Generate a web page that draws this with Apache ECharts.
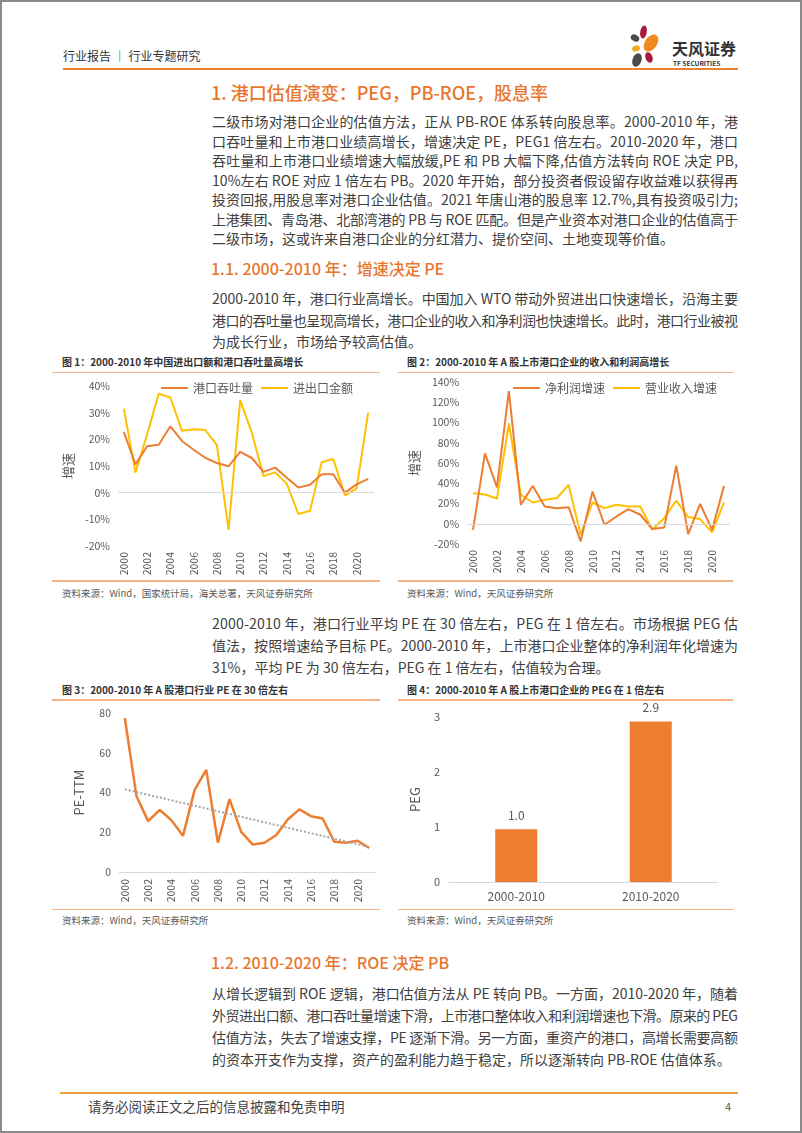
<!DOCTYPE html>
<html><head><meta charset="utf-8">
<script src="https://cdn.jsdelivr.net/npm/echarts@6/dist/echarts.min.js"></script>
<style>
html,body{margin:0;padding:0;background:#fff;}
#page{position:relative;width:802px;height:1133px;overflow:hidden;font-family:"Noto Sans CJK SC","Noto Sans",sans-serif;color:#404040;background:#fff;}
.abs{position:absolute;white-space:nowrap;}
.frame{position:absolute;left:0;top:0;width:802px;height:1133px;box-sizing:border-box;border:2px solid #8a8a8a;pointer-events:none;z-index:10;}
.chart{position:absolute;}
</style></head>
<body><div id="page">
<div class="frame"></div>
<div id="c1" class="chart" style="left:50px;top:373px;width:332px;height:207px;"></div>
<div id="c2" class="chart" style="left:400px;top:373px;width:335px;height:207px;"></div>
<div id="c3" class="chart" style="left:50px;top:701px;width:332px;height:208px;"></div>
<div id="c4" class="chart" style="left:400px;top:701px;width:335px;height:208px;"></div>
</div>
<script>
// ---------- data ----------
const years = ['2000','2001','2002','2003','2004','2005','2006','2007','2008','2009','2010','2011','2012','2013','2014','2015','2016','2017','2018','2019','2020','2021'];
const portThroughput = [22.8,10.6,17.4,18.0,24.9,19.4,16.1,13.1,11.1,9.9,15.3,13.0,7.8,9.4,5.6,1.9,3.0,6.9,6.9,0.0,3.1,5.2];
const tradeValue = [31.5,7.5,21.8,37.1,35.7,23.2,23.8,23.5,17.8,-13.9,34.7,22.5,6.2,7.6,3.4,-8.0,-6.8,11.4,12.6,-1.0,1.5,30.0];
const netProfitGrowth = [-6,69.5,36,131,18.7,37.4,17,15.4,16.4,-17.4,31.8,-1,7.2,14.4,8.9,-5.2,-3.6,57.4,-10.2,19.7,-5.9,37.4];
const revenueGrowth = [30.2,28.9,24.9,99,28.5,21,23.6,25.2,38.4,-10.8,21,15.4,18.7,17,17,-5.9,5.6,23,6.6,4.6,-8.5,21];
const peTTM = [77.5,38.2,25.6,31.2,26.1,18.2,41.3,51.4,14.7,36.7,20.2,13.8,14.7,18.5,26.4,31.5,28.1,26.9,15.2,14.7,15.7,12.1];
const peTrend = [41.6,12.6];
const pegCategories = ['2000-2010','2010-2020'];
const pegValues = [0.96,2.92];
const pctTicks = {c1:[-20,40,10], c2:[-20,140,20], c3:[0,80,20], c4:[0,3,1]};

// ---------- text ----------
const para1 = [
 '二级市场对港口企业的估值方法，正从 PB-ROE 体系转向股息率。2000-2010 年，港',
 '口吞吐量和上市港口业绩高增长，增速决定 PE，PEG1 倍左右。2010-2020 年，港口',
 '吞吐量和上市港口业绩增速大幅放缓,PE 和 PB 大幅下降,估值方法转向 ROE 决定 PB,',
 '10%左右 ROE 对应 1 倍左右 PB。2020 年开始，部分投资者假设留存收益难以获得再',
 '投资回报,用股息率对港口企业估值。2021 年唐山港的股息率 12.7%,具有投资吸引力;',
 '上港集团、青岛港、北部湾港的 PB 与 ROE 匹配。但是产业资本对港口企业的估值高于',
 '二级市场，这或许来自港口企业的分红潜力、提价空间、土地变现等价值。'];
const para2 = [
 '2000-2010 年，港口行业高增长。中国加入 WTO 带动外贸进出口快速增长，沿海主要',
 '港口的吞吐量也呈现高增长，港口企业的收入和净利润也快速增长。此时，港口行业被视',
 '为成长行业，市场给予较高估值。'];
const para3 = [
 '2000-2010 年，港口行业平均 PE 在 30 倍左右，PEG 在 1 倍左右。市场根据 PEG 估',
 '值法，按照增速给予目标 PE。2000-2010 年，上市港口企业整体的净利润年化增速为',
 '31%，平均 PE 为 30 倍左右，PEG 在 1 倍左右，估值较为合理。'];
const para4 = [
 '从增长逻辑到 ROE 逻辑，港口估值方法从 PE 转向 PB。一方面，2010-2020 年，随着',
 '外贸进出口额、港口吞吐量增速下滑，上市港口整体收入和利润增速也下滑。原来的 PEG',
 '估值方法，失去了增速支撑，PE 逐渐下滑。另一方面，重资产的港口，高增长需要高额',
 '的资本开支作为支撑，资产的盈利能力趋于稳定，所以逐渐转向 PB-ROE 估值体系。'];

const page = document.getElementById('page');
function txt(s, x, yc, size, color, weight, lh) {
  lh = lh || Math.round(size*1.5);
  const d = document.createElement('div');
  d.className = 'abs';
  d.style.cssText = `left:${x}px;top:${yc - lh/2}px;height:${lh}px;line-height:${lh}px;font-size:${size}px;color:${color};font-weight:${weight||'normal'};`;
  d.textContent = s;
  page.appendChild(d);
  return d;
}
function para(lines, y0, step) {
  lines.forEach((s, i) => {
    const d = txt(s, 212, y0 + i*step, 14, '#404040', 'normal', 20);
    if (i < lines.length - 1) {
      const w = d.getBoundingClientRect().width;
      const n = [...s].length;
      d.style.letterSpacing = ((526 - w) / (n - 1)) + 'px';
    }
  });
}
function rule(x1, x2, y, color, w) {
  const d = document.createElement('div');
  d.style.cssText = `position:absolute;left:${x1}px;top:${y - w/2}px;width:${x2-x1}px;height:${w}px;background:${color};`;
  page.appendChild(d);
}

// header
txt('行业报告 ｜ 行业专题研究', 63, 56, 12, '#333333');
rule(63, 738, 69, '#E9822F', 2);
const svgNS = 'http://www.w3.org/2000/svg';
const logo = document.createElementNS(svgNS, 'svg');
logo.setAttribute('width', '802'); logo.setAttribute('height', '80');
logo.style.cssText = 'position:absolute;left:0;top:0;';
[[643.5,32,3.3,6.5,10,'#A8193D'],[635,38,4.5,3.3,30,'#4A4A4A'],[651,43,6,9.5,35,'#F08A1C'],[636,48.5,4,3,-20,'#F5A623'],[649,57.5,3.5,5.5,-20,'#A8193D'],[637,60,4.5,7,20,'#4A4A4A']].forEach(p => {
  const e = document.createElementNS(svgNS, 'ellipse');
  e.setAttribute('cx', p[0]); e.setAttribute('cy', p[1]); e.setAttribute('rx', p[2]); e.setAttribute('ry', p[3]);
  e.setAttribute('transform', `rotate(${p[4]} ${p[0]} ${p[1]})`); e.setAttribute('fill', p[5]);
  logo.appendChild(e);
});
page.appendChild(logo);
txt('天风证券', 672, 48, 16, '#333333', 'bold');
txt('TF SECURITIES', 673, 63, 6.5, '#333333', 'bold', 8);

// section text
txt('1. 港口估值演变：PEG，PB-ROE，股息率', 211, 92, 18, '#E8762D', '500', 26);
para(para1, 121, 19.5);
txt('1.1. 2000-2010 年：增速决定 PE', 211, 268, 16, '#E8762D', '500', 24);
para(para2, 298, 21.5);
para(para3, 623, 22);
txt('1.2. 2010-2020 年：ROE 决定 PB', 211, 962, 16, '#E8762D', '500', 24);
para(para4, 993, 22);

// chart frames
txt('图 1：2000-2010 年中国进出口额和港口吞吐量高增长', 62, 361.5, 10, '#333333', 'bold', 14);
txt('图 2：2000-2010 年 A 股上市港口企业的收入和利润高增长', 407, 361.5, 10, '#333333', 'bold', 14);
rule(52, 380, 372.3, '#F4B183', 1.5); rule(398, 733, 372.3, '#F4B183', 1.5);
rule(52, 380, 581, '#F4B183', 1.5); rule(398, 733, 581, '#F4B183', 1.5);
txt('资料来源：Wind，国家统计局，海关总署，天风证券研究所', 62, 593, 9.5, '#595959', 'normal', 13);
txt('资料来源：Wind，天风证券研究所', 407, 593, 9.5, '#595959', 'normal', 13);
txt('图 3：2000-2010 年 A 股港口行业 PE 在 30 倍左右', 62, 689.5, 10, '#333333', 'bold', 14);
txt('图 4：2000-2010 年 A 股上市港口企业的 PEG 在 1 倍左右', 407, 689.5, 10, '#333333', 'bold', 14);
rule(52, 380, 700, '#F4B183', 1.5); rule(398, 733, 700, '#F4B183', 1.5);
rule(52, 380, 909.3, '#F4B183', 1.5); rule(398, 733, 909.3, '#F4B183', 1.5);
txt('资料来源：Wind，天风证券研究所', 62, 920, 9.5, '#595959', 'normal', 13);
txt('资料来源：Wind，天风证券研究所', 407, 920, 9.5, '#595959', 'normal', 13);

// footer
rule(60, 738, 1093, '#E9A23B', 2);
txt('请务必阅读正文之后的信息披露和免责申明', 88, 1106, 13.5, '#404040');
txt('4', 725, 1106, 11, '#595959');

// ---------- charts ----------
const FONT = '"Noto Sans CJK SC","Noto Sans",sans-serif';
const ORANGE = '#ED7D31', YELLOW = '#FFC000', AX = '#595959';
const zeroLine = {silent:true, symbol:['none','none'], label:{show:false}, lineStyle:{color:'#D9D9D9', type:'solid', width:1}, data:[{yAxis:0}]};
function lineOpt(names, datas, colors, grid, yr, legendLeft, nameGap) {
  return {
    animation:false,
    textStyle:{fontFamily:FONT},
    legend:{left:legendLeft, top:4, itemWidth:27, itemHeight:2, itemGap:8, icon:'rect', textStyle:{fontSize:12, color:AX, fontFamily:FONT}, data:names},
    grid:grid,
    xAxis:{type:'category', data:years, boundaryGap:true, axisLine:{show:false}, axisTick:{show:false},
      axisLabel:{rotate:90, interval:1, margin:6, fontSize:10.5, color:AX}},
    yAxis:{type:'value', min:yr[0], max:yr[1], interval:yr[2], name:'增速', nameLocation:'middle', nameGap:nameGap, nameRotate:90,
      nameTextStyle:{fontSize:13, color:AX}, splitLine:{show:false}, axisLine:{show:false}, axisTick:{show:false},
      axisLabel:{formatter:'{value}%', margin:8, fontSize:10.5, color:AX}},
    series:names.map((n, i) => ({name:n, type:'line', data:datas[i], symbol:'none', z: 3 - i,
      lineStyle:{width:2, color:colors[i]}, itemStyle:{color:colors[i]},
      markLine: i === 0 ? zeroLine : undefined}))
  };
}
echarts.init(document.getElementById('c1')).setOption(
  lineOpt(['港口吞吐量','进出口金额'], [portThroughput, tradeValue], [ORANGE, YELLOW],
    {left:68, right:8, top:13, bottom:34}, pctTicks.c1, 106, 25));
echarts.init(document.getElementById('c2')).setOption(
  lineOpt(['净利润增速','营业收入增速'], [netProfitGrowth, revenueGrowth], [ORANGE, YELLOW],
    {left:62, right:5, top:9, bottom:36}, pctTicks.c2, 108, 36));

echarts.init(document.getElementById('c3')).setOption({
  animation:false,
  textStyle:{fontFamily:FONT},
  grid:{left:69, right:7, top:12, bottom:37},
  xAxis:{type:'category', data:years, boundaryGap:true, axisLine:{show:true, lineStyle:{color:'#D9D9D9'}}, axisTick:{show:false},
    axisLabel:{rotate:90, interval:1, margin:7, fontSize:10.5, color:AX}},
  yAxis:{type:'value', min:pctTicks.c3[0], max:pctTicks.c3[1], interval:pctTicks.c3[2], name:'PE-TTM', nameLocation:'middle', nameGap:33, nameRotate:90,
    nameTextStyle:{fontSize:13, color:AX}, splitLine:{show:false}, axisLine:{show:false}, axisTick:{show:false},
    axisLabel:{margin:8, fontSize:10.5, color:AX}},
  series:[{name:'PE-TTM', type:'line', data:peTTM, symbol:'none', lineStyle:{width:2.5, color:ORANGE}, itemStyle:{color:ORANGE},
    markLine:{silent:true, symbol:['none','none'], label:{show:false}, lineStyle:{color:'#A6A6A6', type:'dotted', width:2},
      data:[[{coord:[years[0], peTrend[0]]}, {coord:[years[years.length-1], peTrend[1]]}]]}}]
});

echarts.init(document.getElementById('c4')).setOption({
  animation:false,
  textStyle:{fontFamily:FONT},
  grid:{left:49, right:17, top:16, bottom:27},
  xAxis:{type:'category', data:pegCategories, axisLine:{show:true, lineStyle:{color:'#D9D9D9'}}, axisTick:{show:false},
    axisLabel:{margin:8, fontSize:12, color:AX}},
  yAxis:{type:'value', min:pctTicks.c4[0], max:pctTicks.c4[1], interval:pctTicks.c4[2], name:'PEG', nameLocation:'middle', nameGap:27, nameRotate:90,
    nameTextStyle:{fontSize:13, color:AX}, splitLine:{show:false}, axisLine:{show:false}, axisTick:{show:false},
    axisLabel:{margin:9, fontSize:11, color:AX}},
  series:[{type:'bar', data:pegValues, barWidth:42, itemStyle:{color:ORANGE},
    label:{show:true, position:'top', distance:8, fontSize:12, color:AX, formatter:p => p.value.toFixed(1)}}]
});
</script>
</body></html>
